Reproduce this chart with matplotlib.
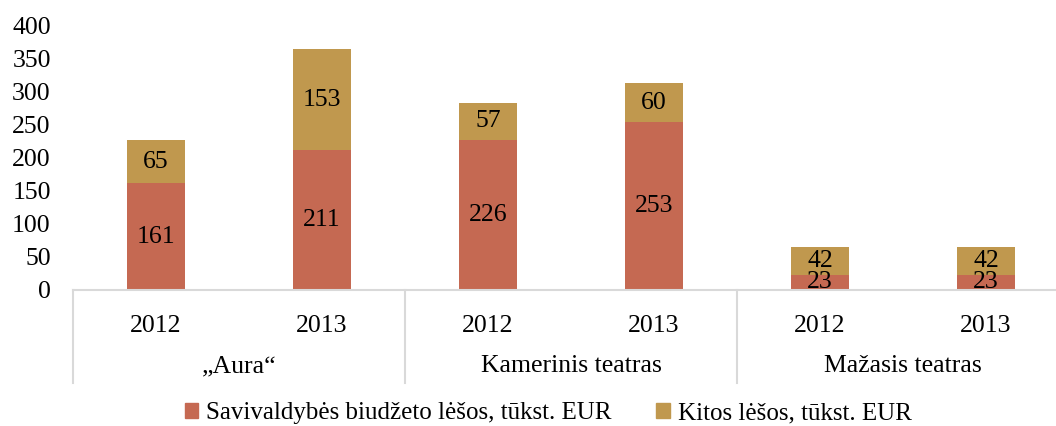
import matplotlib.pyplot as plt
from matplotlib.patches import Patch
from matplotlib.lines import Line2D

groups = ['„Aura“', 'Kamerinis teatras', 'Mažasis teatras']
years = ['2012', '2013', '2012', '2013', '2012', '2013']
budget = [161, 211, 226, 253, 23, 23]
other = [65, 153, 57, 60, 42, 42]

c_budget = '#C56952'
c_other = '#C0984E'
plt.rcParams['font.family'] = ['Liberation Serif', 'DejaVu Serif']
fs = 18.5

W, H = 1056, 426
fig = plt.figure(figsize=(W / 100, H / 100), dpi=100)
# plot area runs a bit past the right edge, like the source
ax = fig.add_axes([73 / W, (H - 290) / H, 996 / W, 265 / H])

x = list(range(len(years)))
b1 = ax.bar(x, budget, width=0.35, color=c_budget)
b2 = ax.bar(x, other, width=0.35, bottom=budget, color=c_other)
ax.bar_label(b1, label_type='center', fontsize=fs)
ax.bar_label(b2, label_type='center', fontsize=fs)

ax.set_xlim(-0.5, 5.5)
ax.set_ylim(0, 400)
ax.set_yticks(range(0, 401, 50))
ax.tick_params(axis='y', length=0, pad=16, labelsize=fs)
ax.set_xticks(x)
ax.set_xticklabels(years)
ax.tick_params(axis='x', length=0, pad=18, labelsize=fs)
for s in ['top', 'right', 'left']:
    ax.spines[s].set_visible(False)
ax.spines['bottom'].set_color('#D9D9D9')
ax.spines['bottom'].set_linewidth(1.5)

# group labels and separators below axis
trans = ax.get_xaxis_transform()
for i, g in enumerate(groups):
    ax.text(2 * i + 0.5, -76 / 265, g, transform=trans, ha='center', va='center', fontsize=fs)
for xs in [-0.5, 1.5, 3.5]:
    ax.add_line(Line2D([xs, xs], [0, -93 / 265], transform=trans, color='#D9D9D9',
                       lw=1.5, clip_on=False))

handles = [Patch(color=c_budget, label='Savivaldybės biudžeto lėšos, tūkst. EUR'),
           Patch(color=c_other, label='Kitos lėšos, tūkst. EUR')]
fig.legend(handles=handles, loc='center', bbox_to_anchor=(548 / W, 1 - 413 / H), ncol=2,
           frameon=False, fontsize=18, handlelength=0.55, handleheight=0.55,
           handletextpad=0.3, columnspacing=1.8)

fig.savefig('out.png', dpi=100)
